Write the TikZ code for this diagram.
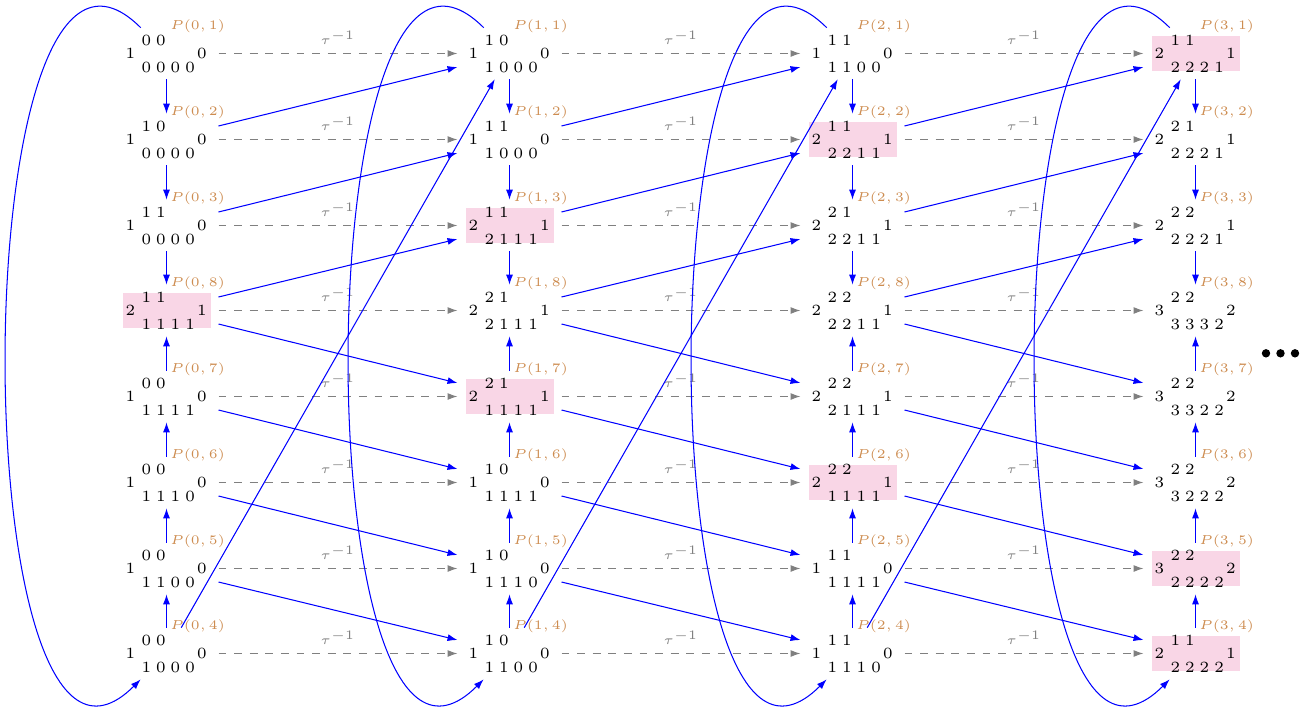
\documentclass[tikz,border=0pt]{standalone}
\usetikzlibrary{arrows.meta,calc}
\definecolor{lab}{RGB}{205,140,80}
\definecolor{hl}{RGB}{249,214,230}
\def\U{0.3846pt}
\newcommand\digfont{\fontsize{6}{7}\selectfont\spaceskip=1.95pt\relax}
\tikzset{
  vert/.style={rectangle, minimum width=88*\U, minimum height=35.7*\U, inner sep=0pt, outer sep=8*\U},
  hvert/.style={vert, fill=hl},
  dg/.style={inner sep=0pt, font=\digfont},
  dgw/.style={dg, anchor=west},
  plab/.style={inner sep=0pt, anchor=west, font=\tiny, text=lab},
  bl/.style={blue, -{Latex[length=10*\U, width=7*\U]}},
  tauarr/.style={gray, dashed, -{Latex[length=10*\U, width=7*\U]}},
  taulab/.style={midway, anchor=base, yshift=9*\U, font=\tiny, text=gray, inner sep=0pt},
}
% name, X, Y, style, left, top, bottom, right, label
\newcommand\vtx[9]{%
  \node[#4] (#1) at (#2,-#3) {};
  \node[dg] (#1l) at (#2-36,-#3) {#5};
  \node[dgw] (#1t) at (#2-25.5,-#3+12.7) {#6};
  \node[dgw] (#1b) at (#2-25.5,-#3-13.5) {#7};
  \node[dg] (#1r) at (#2+35.5,-#3) {#8};
  \node[plab] (#1p) at (#2+3.3,-#3+27.3) {$#9$};
}
\begin{document}
\begin{tikzpicture}[x=\U, y=\U]
\useasboundingbox (0,0) rectangle (1315,-711);
% column 0
\vtx{P01}{166.5}{53.5}{vert}{1}{0 0}{0 0 0 0}{0}{P(0,1)}
\vtx{P02}{166.5}{139.5}{vert}{1}{1 0}{0 0 0 0}{0}{P(0,2)}
\vtx{P03}{166.5}{225.5}{vert}{1}{1 1}{0 0 0 0}{0}{P(0,3)}
\vtx{P08}{166.5}{310.5}{hvert}{2}{1 1}{1 1 1 1}{1}{P(0,8)}
\vtx{P07}{166.5}{396.5}{vert}{1}{0 0}{1 1 1 1}{0}{P(0,7)}
\vtx{P06}{166.5}{482.5}{vert}{1}{0 0}{1 1 1 0}{0}{P(0,6)}
\vtx{P05}{166.5}{568.5}{vert}{1}{0 0}{1 1 0 0}{0}{P(0,5)}
\vtx{P04}{166.5}{653.5}{vert}{1}{0 0}{1 0 0 0}{0}{P(0,4)}
% column 1
\vtx{P11}{509.5}{53.5}{vert}{1}{1 0}{1 0 0 0}{0}{P(1,1)}
\vtx{P12}{509.5}{139.5}{vert}{1}{1 1}{1 0 0 0}{0}{P(1,2)}
\vtx{P13}{509.5}{225.5}{hvert}{2}{1 1}{2 1 1 1}{1}{P(1,3)}
\vtx{P18}{509.5}{310.5}{vert}{2}{2 1}{2 1 1 1}{1}{P(1,8)}
\vtx{P17}{509.5}{396.5}{hvert}{2}{2 1}{1 1 1 1}{1}{P(1,7)}
\vtx{P16}{509.5}{482.5}{vert}{1}{1 0}{1 1 1 1}{0}{P(1,6)}
\vtx{P15}{509.5}{568.5}{vert}{1}{1 0}{1 1 1 0}{0}{P(1,5)}
\vtx{P14}{509.5}{653.5}{vert}{1}{1 0}{1 1 0 0}{0}{P(1,4)}
% column 2
\vtx{P21}{852.5}{53.5}{vert}{1}{1 1}{1 1 0 0}{0}{P(2,1)}
\vtx{P22}{852.5}{139.5}{hvert}{2}{1 1}{2 2 1 1}{1}{P(2,2)}
\vtx{P23}{852.5}{225.5}{vert}{2}{2 1}{2 2 1 1}{1}{P(2,3)}
\vtx{P28}{852.5}{310.5}{vert}{2}{2 2}{2 2 1 1}{1}{P(2,8)}
\vtx{P27}{852.5}{396.5}{vert}{2}{2 2}{2 1 1 1}{1}{P(2,7)}
\vtx{P26}{852.5}{482.5}{hvert}{2}{2 2}{1 1 1 1}{1}{P(2,6)}
\vtx{P25}{852.5}{568.5}{vert}{1}{1 1}{1 1 1 1}{0}{P(2,5)}
\vtx{P24}{852.5}{653.5}{vert}{1}{1 1}{1 1 1 0}{0}{P(2,4)}
% column 3
\vtx{P31}{1195.5}{53.5}{hvert}{2}{1 1}{2 2 2 1}{1}{P(3,1)}
\vtx{P32}{1195.5}{139.5}{vert}{2}{2 1}{2 2 2 1}{1}{P(3,2)}
\vtx{P33}{1195.5}{225.5}{vert}{2}{2 2}{2 2 2 1}{1}{P(3,3)}
\vtx{P38}{1195.5}{310.5}{vert}{3}{2 2}{3 3 3 2}{2}{P(3,8)}
\vtx{P37}{1195.5}{396.5}{vert}{3}{2 2}{3 3 2 2}{2}{P(3,7)}
\vtx{P36}{1195.5}{482.5}{vert}{3}{2 2}{3 2 2 2}{2}{P(3,6)}
\vtx{P35}{1195.5}{568.5}{hvert}{3}{2 2}{2 2 2 2}{2}{P(3,5)}
\vtx{P34}{1195.5}{653.5}{hvert}{2}{1 1}{2 2 2 2}{1}{P(3,4)}
% tau^{-1} arrows
\foreach \c/\d in {0/1,1/2,2/3}{
  \foreach \k in {1,...,8}{
    \draw[tauarr] (P\c\k) -- node[taulab] (T\c\k) {$\tau^{-1}$} (P\d\k);
  }
}
% vertical arrows
\foreach \c in {0,...,3}{
  \draw[bl] (P\c1) -- (P\c2);
  \draw[bl] (P\c2) -- (P\c3);
  \draw[bl] (P\c3) -- (P\c8);
  \draw[bl] (P\c7) -- (P\c8);
  \draw[bl] (P\c6) -- (P\c7);
  \draw[bl] (P\c5) -- (P\c6);
  \draw[bl] (P\c4) -- (P\c5);
}
% diagonal arrows
\foreach \c/\d in {0/1,1/2,2/3}{
  \foreach \a/\b in {2/1,3/2,8/3}{
    \draw[bl] ($(P\c\a.east)+(0,13.5)$) -- ($(P\d\b.west)+(0,-13.5)$);
  }
  \foreach \a/\b in {8/7,7/6,6/5,5/4}{
    \draw[bl] ($(P\c\a.east)+(0,-13.5)$) -- ($(P\d\b.west)+(0,13.5)$);
  }
  \draw[bl] (P\c4) -- (P\d1);
}
% loops
\foreach \c in {0,...,3}{
  \draw[bl] (P\c1) to[out=135, in=225] (P\c4);
}
% dots
\fill (1266,-353.3) circle[radius=4.2];
\fill (1280.5,-353.3) circle[radius=4.2];
\fill (1295,-353.3) circle[radius=4.2];
\end{tikzpicture}
\end{document}
